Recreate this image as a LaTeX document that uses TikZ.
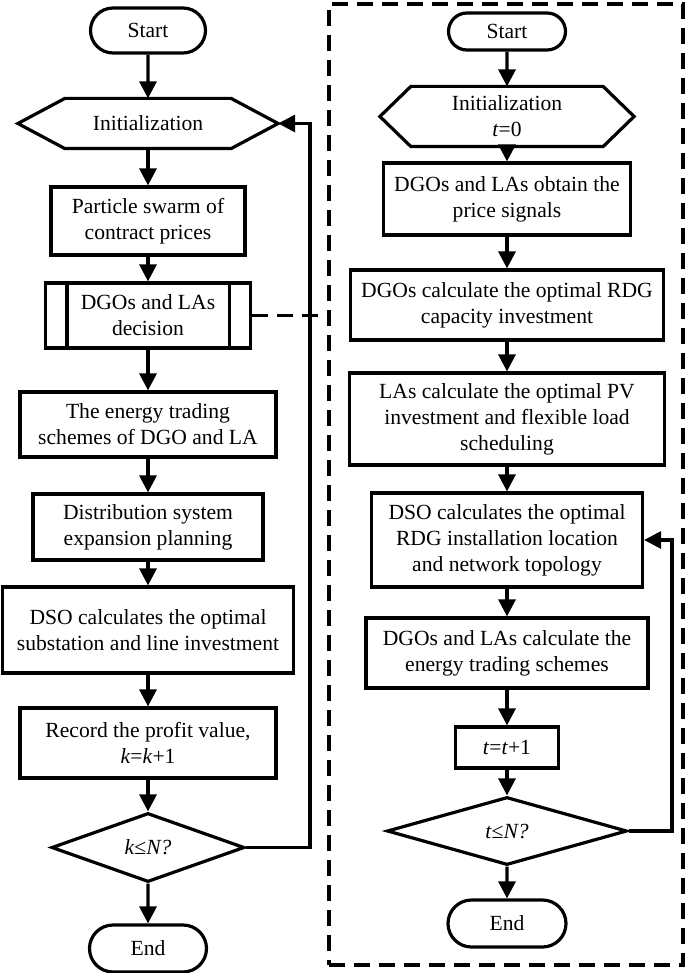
\documentclass[tikz,border=0pt]{standalone}
\usepackage{fontspec}
\setmainfont{Liberation Serif}
\usetikzlibrary{shapes.geometric,shapes.misc,arrows.meta}

\begin{document}
\begin{tikzpicture}[
  x = 0.5pt,
  y = -0.5pt,
  every node/.style = {
    font = \fontsize{10.8}{13}\selectfont
  },
  every path/.style = {
    line width = 1.6pt
  },
  term/.style = {
    rounded rectangle,
    draw = black,
    line width = 1.6pt,
    inner sep = 0pt
  },
  proc/.style = {
    rectangle,
    draw = black,
    line width = 1.6pt,
    align = center,
    inner sep = 0pt
  },
  hexbox/.style = {
    rectangle,
    align = center,
    inner sep = 0pt
  },
  test/.style = {
    diamond,
    draw = black,
    line width = 1.6pt,
    inner sep = 0pt
  },
  flow/.style = {
    -{Triangle[length = 8.5pt, width = 8.5pt]}
  },
  link/.style = {
    line width = 1.6pt,
    dash pattern = on 8pt off 4.5pt
  }
]
  \useasboundingbox (0, 0) rectangle (685, 973);

  % outer loop
  \node[term, minimum width = 57.5pt, minimum height = 22.5pt] (start) at (148, 30.5) {Start};
  \node[hexbox, minimum width = 81.5pt, minimum height = 23.5pt] (init) at (148, 123.5) {Initialization};
  \coordinate (inittip) at ([xshift = 23.5pt]init.east);
  \draw (init.north west) -- (init.north east) -- (inittip) -- (init.south east)
    -- (init.south west) -- ([xshift = -23.5pt]init.west) -- cycle;
  \node[proc, minimum width = 97pt, minimum height = 34pt] (swarm) at (148, 221) {Particle swarm of\\contract prices};
  \node[proc, minimum width = 102.5pt, minimum height = 32.5pt] (dec) at (148, 315.5) {DGOs and LAs\\decision};
  \draw ([xshift = 11.5pt]dec.north west) -- ([xshift = 11.5pt]dec.south west);
  \draw ([xshift = -11.5pt]dec.north east) -- ([xshift = -11.5pt]dec.south east);
  \node[proc, minimum width = 128pt, minimum height = 32.5pt] (trade) at (148, 424.5) {The energy trading\\schemes of DGO and LA};
  \node[proc, minimum width = 115pt, minimum height = 33pt] (dsep) at (148, 527) {Distribution system\\expansion planning};
  \node[proc, minimum width = 145.5pt, minimum height = 43pt] (dso) at (148, 630) {DSO calculates the optimal\\substation and line investment};
  \node[proc, minimum width = 128pt, minimum height = 35pt] (rec) at (148, 743) {Record the profit value,\\\textit{k}=\textit{k}+1};
  \node[test, minimum width = 96.5pt, minimum height = 34.5pt] (testk) at (148, 847.5) {\textit{k}≤\textit{N?}};
  \node[term, minimum width = 58.5pt, minimum height = 23.5pt] (end) at (148, 948.5) {End};

  \draw[flow] (start) -- (init);
  \draw[flow] (init) -- (swarm);
  \draw[flow] (swarm) -- (dec);
  \draw[flow] (dec) -- (trade);
  \draw[flow] (trade) -- (dsep);
  \draw[flow] (dsep) -- (dso);
  \draw[flow] (dso) -- (rec);
  \draw[flow] (rec) -- (testk);
  \draw[flow] (testk) -- (end);
  \coordinate (railk) at (310, 0);
  \draw[flow] (testk.east) -- (testk.east -| railk) -- (inittip -| railk) -- (inittip);

  % inner loop
  \node[draw = black, link, minimum width = 177pt, minimum height = 480.5pt, inner sep = 0pt] (frame) at (506, 484.5) {};
  \draw[link] (dec.east) -- (dec.east -| frame.west);

  \node[term, minimum width = 58.5pt, minimum height = 18.5pt] (start2) at (507, 31.5) {Start};
  \node[hexbox, minimum width = 94.5pt, minimum height = 28.5pt] (init2) at (507, 116.5) {Initialization\\\textit{t}=0};
  \draw (init2.north west) -- (init2.north east) -- ([xshift = 15.5pt]init2.east) -- (init2.south east)
    -- (init2.south west) -- ([xshift = -15.5pt]init2.west) -- cycle;
  \node[proc, minimum width = 123.5pt, minimum height = 36pt] (price) at (507, 199) {DGOs and LAs obtain the\\price signals};
  \node[proc, minimum width = 156.5pt, minimum height = 35pt] (rdg) at (507, 305) {DGOs calculate the optimal RDG\\capacity investment};
  \node[proc, minimum width = 157.5pt, minimum height = 46pt] (pv) at (507, 419) {LAs calculate the optimal PV\\investment and flexible load\\scheduling};
  \node[proc, minimum width = 135.5pt, minimum height = 47pt] (loc) at (507, 540) {DSO calculates the optimal\\RDG installation location\\and network topology};
  \node[proc, minimum width = 141pt, minimum height = 35pt] (sch) at (507, 653) {DGOs and LAs calculate the\\energy trading schemes};
  \node[proc, minimum width = 51.5pt, minimum height = 20.5pt] (inc) at (507, 747.5) {\textit{t}=\textit{t}+1};
  \node[test, minimum width = 120pt, minimum height = 34pt] (testt) at (507, 831) {\textit{t}≤\textit{N?}};
  \node[term, minimum width = 59pt, minimum height = 23.5pt] (end2) at (507, 923.5) {End};

  \draw[flow] (start2) -- (init2);
  \draw[flow] (init2) -- (price);
  \draw[flow] (price) -- (rdg);
  \draw[flow] (rdg) -- (pv);
  \draw[flow] (pv) -- (loc);
  \draw[flow] (loc) -- (sch);
  \draw[flow] (sch) -- (inc);
  \draw[flow] (inc) -- (testt);
  \draw[flow] (testt) -- (end2);
  \coordinate (railt) at (672, 0);
  \draw[flow] (testt.east) -- (testt.east -| railt) -- (loc.east -| railt) -- (loc.east);
\end{tikzpicture}
\end{document}
